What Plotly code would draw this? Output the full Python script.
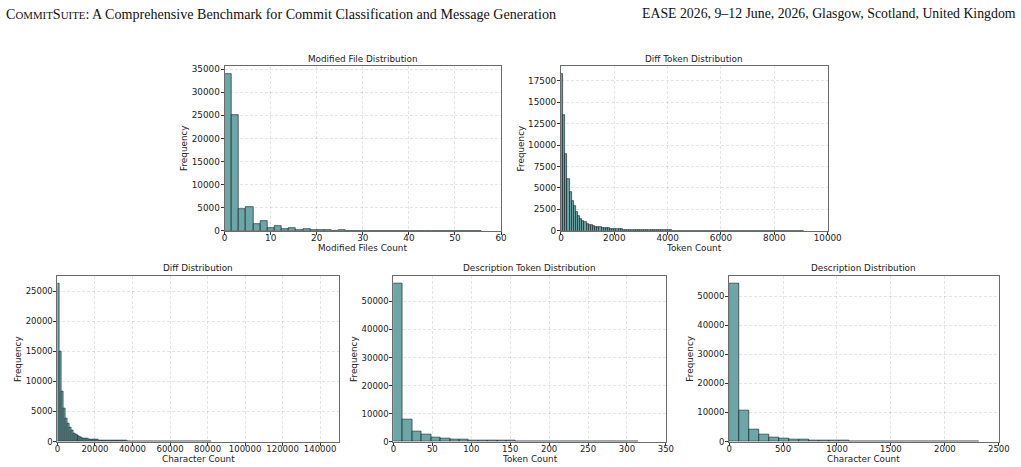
import plotly.graph_objects as go

# target picture size and a compensation factor for the page being shrunk to fit the window
TW, TH = 1021, 467
S = 1 / 0.985
W, H = round(TW * S), round(TH * S)

# ---------------- data ----------------
header_left_parts = ("C", "OMMIT", "S", "UITE",
                     ": A Comprehensive Benchmark for Commit Classification and Message Generation")
header_right = 'EASE 2026, 9–12 June, 2026, Glasgow, Scotland, United Kingdom'

titles = ["Modified File Distribution", "Diff Token Distribution", "Diff Distribution",
          "Description Token Distribution", "Description Distribution"]
xlabels = ["Modified Files Count", "Token Count", "Character Count", "Token Count", "Character Count"]

# Modified files histogram (bins start 0, width 1.55)
mod_files_start, mod_files_width = 0, 1.55
mod_files_counts = [34000, 25000, 4700, 5200, 1440, 2020, 650, 940, 360, 650, 220, 360, 250, 110, 180, 60,
                    150, 40, 30, 25, 20, 15, 15, 10, 8, 8, 30, 40, 10, 5, 30, 40, 5, 5, 30, 5]

# Diff token histogram (bins start 0, width 80)
diff_tok_start, diff_tok_width = 0, 80
diff_tok_counts = [18300, 13530, 8910, 6085, 4500, 3490, 2870, 2170, 1700, 1320, 1160, 1000, 850, 700, 620,
                   540, 500, 465, 390, 350, 310, 290, 270, 250, 230,
                   210, 195, 180, 165, 150, 140, 130, 120, 110, 100, 95, 90, 85, 80, 75, 70, 66, 62, 58, 55,
                   52, 48, 45, 42, 40,
                   38, 36, 34, 33, 31, 30, 29, 28, 27, 26, 25, 24, 23, 22, 21, 20, 20, 19, 18, 18, 17, 16,
                   16, 15, 15, 14, 14, 13, 13, 12, 12, 11, 11, 11, 10, 10, 10, 9,
                   8, 9, 7, 8, 6, 7, 6, 5, 6, 5, 5, 4, 5, 4, 3, 4, 3, 3, 2, 3, 2, 2, 1, 2, 1, 1]

# Diff characters histogram (bins start 0, width 1040)
diff_chr_start, diff_chr_width = 0, 1040
diff_chr_counts = [26280, 14890, 8390, 5440, 3890, 2940, 2280, 1780, 1390, 1110, 940, 780, 670, 560, 500, 440,
                   400, 360, 330, 300, 270, 250, 230, 210, 195, 180, 165, 150, 140, 130, 120, 110, 105, 100,
                   95, 90,
                   70, 65, 60, 57, 54, 50, 47, 45, 42, 40, 38, 36, 34, 32, 30, 29, 28, 27, 26, 25, 24, 23,
                   22, 21, 20, 19, 18, 17, 16, 15, 15, 14, 13, 12, 12,
                   8, 6, 4, 3, 5, 6, 4, 3]

# Description token histogram (bins start 0, width 12.1)
desc_tok_start, desc_tok_width = 0, 12.1
desc_tok_counts = [56460, 8000, 3700, 2600, 1550, 1080, 840, 600, 520, 450, 300, 250, 200, 90, 60, 40, 30,
                   25, 20, 15, 10, 8, 5, 0, 0, 120]

# Description characters histogram (bins start 0, width 92.8)
desc_chr_start, desc_chr_width = 0, 92.8
desc_chr_counts = [54500, 10620, 4270, 2540, 1500, 1150, 800, 580, 460, 350, 300, 230, 120, 80, 60, 45, 35,
                   25, 20, 15, 12, 10, 8, 5, 4]

x_ranges = [[0, 60], [0, 10000], [0, 150000], [0, 350], [0, 2500]]
x_dticks = [10, 2000, 20000, 50, 500]
y_dticks = [5000, 2500, 5000, 10000, 10000]

# ---------------- layout geometry (target pixels from top-left) ----------------
boxes = [  # left, right, top, bottom
    (221.8, 498.5, 64.0, 228.8),
    (558.5, 825.5, 64.0, 228.8),
    (54.5, 336.2, 273.5, 439.5),
    (390.8, 663.5, 273.5, 439.5),
    (726.8, 996.8, 273.5, 439.5),
]
tick_sizes = [8.7, 8.7, 8.4, 8.4, 8.4]

hists = [
    (mod_files_start, mod_files_width, mod_files_counts),
    (diff_tok_start, diff_tok_width, diff_tok_counts),
    (diff_chr_start, diff_chr_width, diff_chr_counts),
    (desc_tok_start, desc_tok_width, desc_tok_counts),
    (desc_chr_start, desc_chr_width, desc_chr_counts),
]

FONT = "DejaVu Sans"
FS_LAB = 8.7
BAR_FILL = "rgba(95,158,160,0.92)"
BAR_EDGE = "rgba(20,30,35,0.9)"
GRID = "rgba(0,0,0,0.10)"
SPINE = "#6b6b6b"

fig = go.Figure()
annotations = []

def px_x(p):
    return p / TW

def px_y(p):
    return 1 - p / TH

def fs(v):
    return round(v * S, 2)

for i, ((start, width, counts), (l, r, t, b)) in enumerate(zip(hists, boxes)):
    n = i + 1
    xa = "x" if n == 1 else f"x{n}"
    ya = "y" if n == 1 else f"y{n}"
    centers = [start + width * (k + 0.5) for k in range(len(counts))]
    fig.add_trace(go.Bar(
        x=centers, y=counts, width=[width] * len(counts),
        marker=dict(color=BAR_FILL, line=dict(color=BAR_EDGE, width=0.7)),
        xaxis=xa, yaxis=ya, showlegend=False, hoverinfo="x+y",
    ))
    ymax = max(counts) * 1.05
    axis_common = dict(
        showline=True, linecolor=SPINE, linewidth=1, mirror=True,
        ticks="outside", ticklen=3, tickwidth=0.8, tickcolor="#333",
        showgrid=True, gridcolor=GRID, griddash="3px,2px", gridwidth=0.6,
        zeroline=False, tickfont=dict(family=FONT, size=fs(tick_sizes[i]), color="#222"),
        tickformat="d", fixedrange=True,
    )
    fig.update_layout(**{
        ("xaxis" if n == 1 else f"xaxis{n}"): dict(
            domain=[px_x(l), px_x(r)], anchor=ya, range=x_ranges[i], tickangle=0,
            tick0=0, dtick=x_dticks[i], ticklabelstandoff=-4, **axis_common),
        ("yaxis" if n == 1 else f"yaxis{n}"): dict(
            domain=[px_y(b), px_y(t)], anchor=xa, range=[0, ymax],
            tick0=0, dtick=y_dticks[i], ticklabelstandoff=-1, **axis_common),
    })
    annotations.append(dict(text=titles[i], x=px_x((l + r) / 2), y=px_y(t - 7.5),
                            xref="paper", yref="paper", xanchor="center", yanchor="middle",
                            showarrow=False, font=dict(family=FONT, size=fs(FS_LAB), color="#222")))
    annotations.append(dict(text=xlabels[i], x=px_x((l + r) / 2), y=px_y(b + 17.5),
                            xref="paper", yref="paper", xanchor="center", yanchor="middle",
                            showarrow=False, font=dict(family=FONT, size=fs(FS_LAB), color="#222")))
    annotations.append(dict(text="Frequency", x=px_x(l - 40), y=px_y((t + b) / 2),
                            xref="paper", yref="paper", xanchor="center", yanchor="middle",
                            textangle=-90, showarrow=False,
                            font=dict(family=FONT, size=fs(FS_LAB), color="#222")))

sc = fs(10.7)
header_left = (f'{header_left_parts[0]}<span style="font-size:{sc}px">{header_left_parts[1]}</span>'
               f'{header_left_parts[2]}<span style="font-size:{sc}px">{header_left_parts[3]}</span>'
               f'{header_left_parts[4]}')
annotations.append(dict(text=header_left, x=px_x(1.5), y=px_y(12), xref="paper", yref="paper",
                        xanchor="left", yanchor="middle", showarrow=False,
                        font=dict(family="Liberation Serif", size=fs(13.9), color="#111")))
annotations.append(dict(text=header_right, x=px_x(1016), y=px_y(12), xref="paper", yref="paper",
                        xanchor="right", yanchor="middle", showarrow=False,
                        font=dict(family="Liberation Serif", size=fs(13.6), color="#111")))

fig.update_layout(
    width=W, height=H, autosize=False, margin=dict(l=0, r=0, t=0, b=0, pad=0),
    paper_bgcolor="white", plot_bgcolor="white",
    bargap=0, annotations=annotations,
)

fig.write_html("out.html", config={"displayModeBar": False, "responsive": False})
